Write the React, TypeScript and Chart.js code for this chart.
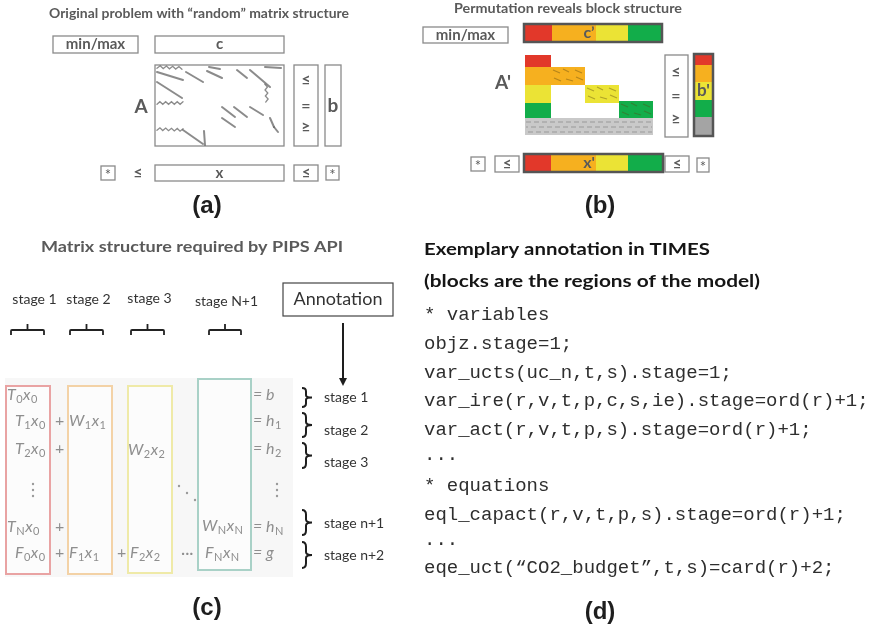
import React, { useEffect, useRef } from 'react';
import { Chart, registerables } from 'chart.js';

Chart.register(...registerables);

const W = 887;
const H = 627;

// ---------------- colours ----------------
const COLORS: Record<string, string> = {
  red: '#e2382a',
  orange: '#f6b01f',
  yellow: '#ebe335',
  green: '#12ad4a',
  gray: '#a4a4a4',
  light: '#c9c9c9',
};

// ---------------- titles & labels ----------------
const TITLES = [
  { t: 'Original problem with \u201crandom\u201d matrix structure', x: 199, y: 14, w: 300, size: 13, color: '#5a5a5a', align: 'center' },
  { t: 'Permutation reveals block structure', x: 568, y: 9, w: 228, size: 13, color: '#5a5a5a', align: 'center' },
  { t: 'Matrix structure required by PIPS API', x: 192, y: 247, w: 302, size: 15, color: '#5a5a5a', align: 'center' },
  { t: 'Exemplary annotation in TIMES', x: 424, y: 250, w: 286, size: 17, color: '#151515', align: 'left' },
  { t: '(blocks are the regions of the model)', x: 424, y: 282, w: 336, size: 17, color: '#151515', align: 'left' },
];

const PANEL_LABELS = [
  { t: '(a)', x: 207, y: 206 },
  { t: '(b)', x: 600, y: 206 },
  { t: '(c)', x: 207, y: 608 },
  { t: '(d)', x: 600, y: 612 },
];

// ---------------- panel (a) & (b) boxes ----------------
const BOXES = [
  { x: 53, y: 36, w: 85, h: 17, label: 'min/max', size: 15 },
  { x: 155, y: 36, w: 129, h: 17, label: 'c', size: 15 },
  { x: 155, y: 65, w: 129, h: 81, label: '', size: 15 },
  { x: 294, y: 65, w: 24, h: 81, label: '', size: 15 },
  { x: 325, y: 65, w: 16, h: 81, label: 'b', size: 19 },
  { x: 101, y: 166, w: 14, h: 14, label: '*', size: 15 },
  { x: 155, y: 165, w: 129, h: 16, label: 'x', size: 15 },
  { x: 294, y: 165, w: 24, h: 16, label: '\u2264', size: 15 },
  { x: 326, y: 166, w: 13, h: 14, label: '*', size: 15 },
  { x: 423, y: 27, w: 85, h: 16, label: 'min/max', size: 15 },
  { x: 665, y: 55, w: 23, h: 82, label: '', size: 15 },
  { x: 471, y: 157, w: 14, h: 14, label: '*', size: 15 },
  { x: 495, y: 156, w: 24, h: 16, label: '\u2264', size: 15 },
  { x: 665, y: 156, w: 24, h: 16, label: '\u2264', size: 15 },
  { x: 697, y: 158, w: 12, h: 14, label: '*', size: 15 },
];

const FREE_LABELS = [
  { t: 'A', x: 141, y: 107, size: 19 },
  { t: '\u2264', x: 138, y: 173, size: 16 },
  { t: '\u2264', x: 306, y: 80, size: 16 },
  { t: '=', x: 306, y: 106, size: 16 },
  { t: '\u2265', x: 306, y: 127, size: 16 },
  { t: "A'", x: 503, y: 83, size: 19 },
  { t: '\u2264', x: 676, y: 72, size: 16 },
  { t: '=', x: 676, y: 96, size: 16 },
  { t: '\u2265', x: 676, y: 119, size: 16 },
];

// streaks of the "random" matrix A: x1, y1, x2, y2, wavy(1)
const A_STREAKS = [
  [157, 67, 182, 68, 1],
  [157, 72, 183, 80, 0],
  [186, 72, 203, 82, 0],
  [209, 67, 220, 69, 0],
  [207, 71, 222, 78, 0],
  [237, 70, 247, 78, 0],
  [250, 70, 270, 87, 0],
  [265, 67, 281, 68, 0],
  [266, 84, 267, 102, 1],
  [157, 82, 182, 98, 0],
  [157, 103, 183, 103, 1],
  [222, 107, 235, 117, 0],
  [234, 107, 247, 117, 0],
  [250, 107, 263, 115, 0],
  [222, 118, 235, 127, 0],
  [270, 118, 274, 127, 0],
  [274, 127, 278, 132, 0],
  [157, 129, 183, 130, 1],
  [183, 130, 203, 144, 0],
  [204, 131, 205, 145, 0],
];

// colour bars of panel (b)
const C_BAR = { edges: [524, 552, 596, 628, 662], y0: 24, y1: 42, label: 'c\u2019', lx: 589 };
const X_BAR = { edges: [524, 551, 596, 628, 663], y0: 154, y1: 172, label: "x'", lx: 589 };
const BAR_COLORS = ['red', 'orange', 'yellow', 'green'];
const B_BAR = { x0: 694, x1: 713, edges: [54, 65, 82, 100, 117, 136], label: "b'", ly: 91 };
const B_BAR_COLORS = ['red', 'orange', 'yellow', 'green', 'gray'];

// blocks of the permuted matrix A'
const APRIME_BLOCKS = [
  { x0: 525, x1: 551, y0: 55, y1: 67, c: 'red' },
  { x0: 525, x1: 585, y0: 67, y1: 85, c: 'orange' },
  { x0: 525, x1: 551, y0: 85, y1: 103, c: 'yellow' },
  { x0: 585, x1: 619, y0: 85, y1: 103, c: 'yellow' },
  { x0: 525, x1: 551, y0: 103, y1: 118, c: 'green' },
  { x0: 619, x1: 653, y0: 101, y1: 118, c: 'green' },
  { x0: 525, x1: 653, y0: 118, y1: 135, c: 'light' },
];
const HATCH_ORIGINS = [[551, 67], [585, 85], [619, 101]];
const HATCH = [[2, 3, 9, 6], [12, 2, 18, 5], [24, 3, 31, 6], [3, 11, 10, 14], [15, 12, 22, 14], [25, 10, 32, 13]];

// ---------------- panel (c) ----------------
const STAGE_TOP = [
  { t: 'stage 1', x: 34.5, y: 299, x1: 11, x2: 44 },
  { t: 'stage 2', x: 88.5, y: 299, x1: 70, x2: 103 },
  { t: 'stage 3', x: 149.5, y: 298, x1: 131, x2: 164 },
  { t: 'stage N+1', x: 226.5, y: 301, x1: 209, x2: 241 },
];
const COLUMN_BOXES = [
  { x: 6, y: 386, w: 44, h: 188, c: '#e9a3a3' },
  { x: 68, y: 386, w: 44, h: 188, c: '#f3d2a6' },
  { x: 128, y: 386, w: 44, h: 187, c: '#efeaa8' },
  { x: 198, y: 379, w: 53, h: 191, c: '#a9d1c7' },
];
const MATH = [
  { s: 'T_0x_0', x: 7, y: 395 },
  { s: 'T_1x_0', x: 15, y: 421 }, { s: '+', x: 55, y: 421 }, { s: 'W_1x_1', x: 69, y: 421 },
  { s: 'T_2x_0', x: 15, y: 449 }, { s: '+', x: 55, y: 449 }, { s: 'W_2x_2', x: 128, y: 450 },
  { s: 'T_Nx_0', x: 7, y: 527 }, { s: '+', x: 55, y: 527 }, { s: 'W_Nx_N', x: 202, y: 526 },
  { s: 'F_0x_0', x: 15, y: 553 }, { s: '+', x: 55, y: 553 }, { s: 'F_1x_1', x: 69, y: 553 },
  { s: '+', x: 117, y: 553 }, { s: 'F_2x_2', x: 130, y: 553 }, { s: '\u00b7\u00b7\u00b7', x: 181, y: 553 },
  { s: 'F_Nx_N', x: 205, y: 553 },
  { s: '= b', x: 253, y: 395 }, { s: '= h_1', x: 253, y: 421 }, { s: '= h_2', x: 253, y: 449 },
  { s: '= h_N', x: 253, y: 527 }, { s: '= g', x: 253, y: 553 },
];
const VDOTS = [[33, 484], [33, 490], [33, 496], [277, 484], [277, 490], [277, 496]];
const DDOTS = [[179, 486], [187, 493], [195, 500]];
const STAGE_RIGHT = [
  { t: 'stage 1', y0: 388, y1: 407, ly: 397 },
  { t: 'stage 2', y0: 413, y1: 437, ly: 430 },
  { t: 'stage 3', y0: 443, y1: 468, ly: 462 },
  { t: 'stage n+1', y0: 510, y1: 535, ly: 523 },
  { t: 'stage n+2', y0: 542, y1: 568, ly: 555 },
];

// ---------------- panel (d) ----------------
const CODE_LINES = [
  { t: '* variables', y: 315 },
  { t: 'objz.stage=1;', y: 344 },
  { t: 'var_ucts(uc_n,t,s).stage=1;', y: 373 },
  { t: 'var_ire(r,v,t,p,c,s,ie).stage=ord(r)+1;', y: 401 },
  { t: 'var_act(r,v,t,p,s).stage=ord(r)+1;', y: 430 },
  { t: '...', y: 455 },
  { t: '* equations', y: 486 },
  { t: 'eql_capact(r,v,t,p,s).stage=ord(r)+1;', y: 515 },
  { t: '...', y: 540 },
  { t: 'eqe_uct(\u201cCO2_budget\u201d,t,s)=card(r)+2;', y: 568 },
];

const SANS = 'Lato, "Open Sans", sans-serif';

function drawText(ctx: CanvasRenderingContext2D, s: string, x: number, y: number, font: string, color: string, align: string, fitW?: number) {
  ctx.save();
  ctx.font = font;
  ctx.fillStyle = color;
  ctx.textBaseline = 'middle';
  ctx.textAlign = 'left';
  const m = ctx.measureText(s).width;
  const sx = fitW ? fitW / m : 1;
  const left = align === 'center' ? x - (m * sx) / 2 : align === 'right' ? x - m * sx : x;
  ctx.translate(left, y);
  ctx.scale(sx, 1);
  ctx.fillText(s, 0, 0);
  ctx.restore();
}

function parseMath(s: string) {
  const runs: { t: string; sub: boolean }[] = [];
  let i = 0;
  while (i < s.length) {
    if (s[i] === '_') {
      runs.push({ t: s[i + 1], sub: true });
      i += 2;
    } else {
      let t = '';
      while (i < s.length && s[i] !== '_') {
        t += s[i];
        i++;
      }
      runs.push({ t, sub: false });
    }
  }
  return runs;
}

const diagramPlugin = {
  id: 'diagram',
  afterDatasetsDraw(chart: any) {
    const ctx: CanvasRenderingContext2D = chart.ctx;
    const xs = chart.scales.x;
    const ys = chart.scales.y;
    const X = (v: number) => xs.getPixelForValue(v);
    const Y = (v: number) => ys.getPixelForValue(v);
    const rect = (x0: number, y0: number, x1: number, y1: number) => [X(x0), Y(y0), X(x1) - X(x0), Y(y1) - Y(y0)] as const;

    ctx.save();
    ctx.fillStyle = '#ffffff';
    ctx.fillRect(0, 0, chart.width, chart.height);
    ctx.restore();

    // titles
    TITLES.forEach((t) => {
      const fw = X(t.x + t.w) - X(t.x);
      drawText(ctx, t.t, X(t.x), Y(t.y), `bold ${t.size}px ${SANS}`, t.color, t.align, fw);
    });
    PANEL_LABELS.forEach((p) => {
      drawText(ctx, p.t, X(p.x), Y(p.y), `bold 24px "Liberation Sans", Arial, sans-serif`, '#1e1e1e', 'center');
    });

    // A' blocks
    APRIME_BLOCKS.forEach((b) => {
      ctx.fillStyle = COLORS[b.c];
      ctx.fillRect(...rect(b.x0, b.y0, b.x1, b.y1));
    });
    ctx.save();
    ctx.filter = 'blur(0.5px)';
    ctx.strokeStyle = 'rgba(90,70,20,0.4)';
    ctx.lineWidth = 1.2;
    HATCH_ORIGINS.forEach(([ox, oy]) => {
      HATCH.forEach(([a, b, c, d]) => {
        ctx.beginPath();
        ctx.moveTo(X(ox + a), Y(oy + b));
        ctx.lineTo(X(ox + c), Y(oy + d));
        ctx.stroke();
      });
    });
    ctx.strokeStyle = 'rgba(110,110,110,0.5)';
    ctx.setLineDash([5, 3]);
    [122, 127, 132].forEach((yy, i) => {
      ctx.lineDashOffset = i * 3;
      ctx.beginPath();
      ctx.moveTo(X(526), Y(yy));
      ctx.lineTo(X(652), Y(yy));
      ctx.stroke();
    });
    ctx.restore();

    // boxes
    BOXES.forEach((b) => {
      ctx.save();
      ctx.strokeStyle = '#8a8a8a';
      ctx.lineWidth = 1.3;
      ctx.strokeRect(...rect(b.x, b.y, b.x + b.w, b.y + b.h));
      ctx.restore();
      if (b.label) {
        const isStar = b.label === '*';
        const bold = isStar ? '' : 'bold ';
        drawText(ctx, b.label, X(b.x + b.w / 2), Y(b.y + b.h / 2 + (isStar ? 2.5 : 0)), `${bold}${b.size}px ${SANS}`, '#5a5a5a', 'center');
      }
    });
    FREE_LABELS.forEach((f) => {
      drawText(ctx, f.t, X(f.x), Y(f.y), `bold ${f.size}px ${SANS}`, '#5a5a5a', 'center');
    });

    // A streaks
    ctx.save();
    ctx.filter = 'blur(0.6px)';
    ctx.strokeStyle = 'rgba(90,90,90,0.7)';
    ctx.lineCap = 'round';
    A_STREAKS.forEach(([x1, y1, x2, y2, wavy]) => {
      ctx.beginPath();
      if (!wavy) {
        ctx.lineWidth = 2;
        ctx.moveTo(X(x1), Y(y1));
        ctx.lineTo(X(x2), Y(y2));
      } else {
        ctx.lineWidth = 1.3;
        const dx = X(x2) - X(x1);
        const dy = Y(y2) - Y(y1);
        const len = Math.hypot(dx, dy);
        const n = Math.max(2, Math.round(len / 3));
        const px = -dy / len;
        const py = dx / len;
        for (let i = 0; i <= n; i++) {
          const f = i / n;
          const a = i % 2 === 0 ? 1.3 : -1.3;
          const xx = X(x1) + dx * f + px * a;
          const yy = Y(y1) + dy * f + py * a;
          if (i === 0) ctx.moveTo(xx, yy);
          else ctx.lineTo(xx, yy);
        }
      }
      ctx.stroke();
    });
    ctx.restore();

    // colour bars
    [C_BAR, X_BAR].forEach((bar) => {
      for (let i = 0; i < 4; i++) {
        ctx.fillStyle = COLORS[BAR_COLORS[i]];
        ctx.fillRect(...rect(bar.edges[i], bar.y0, bar.edges[i + 1], bar.y1));
      }
      ctx.save();
      ctx.strokeStyle = '#555555';
      ctx.lineWidth = 2.5;
      ctx.strokeRect(...rect(bar.edges[0], bar.y0, bar.edges[4], bar.y1));
      ctx.restore();
      drawText(ctx, bar.label, X(bar.lx), Y((bar.y0 + bar.y1) / 2), `bold 16px ${SANS}`, '#5a5a5a', 'center');
    });
    for (let i = 0; i < 5; i++) {
      ctx.fillStyle = COLORS[B_BAR_COLORS[i]];
      ctx.fillRect(...rect(B_BAR.x0, B_BAR.edges[i], B_BAR.x1, B_BAR.edges[i + 1]));
    }
    ctx.save();
    ctx.strokeStyle = '#555555';
    ctx.lineWidth = 2.5;
    ctx.strokeRect(...rect(B_BAR.x0, B_BAR.edges[0], B_BAR.x1, B_BAR.edges[5]));
    ctx.restore();
    drawText(ctx, B_BAR.label, X((B_BAR.x0 + B_BAR.x1) / 2), Y(B_BAR.ly), `bold 17px ${SANS}`, '#5a5a5a', 'center');

    // ---------- panel (c) ----------
    ctx.save();
    ctx.fillStyle = '#f7f7f7';
    ctx.fillRect(...rect(5, 378, 293, 577));
    ctx.restore();
    COLUMN_BOXES.forEach((b) => {
      ctx.save();
      ctx.fillStyle = '#fcfcfc';
      ctx.fillRect(...rect(b.x, b.y, b.x + b.w, b.y + b.h));
      ctx.strokeStyle = b.c;
      ctx.lineWidth = 2;
      ctx.strokeRect(...rect(b.x, b.y, b.x + b.w, b.y + b.h));
      ctx.restore();
    });
    MATH.forEach((m) => {
      const runs = parseMath(m.s);
      let cx = X(m.x);
      ctx.save();
      ctx.fillStyle = '#8e8e8e';
      ctx.textBaseline = 'middle';
      runs.forEach((r) => {
        const upright = /^[=+\u00b7 ]+$/.test(r.t);
        ctx.font = r.sub ? `11px ${SANS}` : `${upright ? '' : 'italic '}16px ${SANS}`;
        const yy = r.sub ? Y(m.y) + 4 : Y(m.y);
        ctx.fillText(r.t, cx, yy);
        cx += ctx.measureText(r.t).width + 0.5;
      });
      ctx.restore();
    });
    ctx.save();
    ctx.fillStyle = '#9a9a9a';
    [...VDOTS, ...DDOTS].forEach(([x, y]) => {
      ctx.beginPath();
      ctx.arc(X(x), Y(y), 1.2, 0, Math.PI * 2);
      ctx.fill();
    });
    ctx.restore();

    // stage labels & top braces
    ctx.save();
    ctx.strokeStyle = '#222222';
    ctx.lineWidth = 1.8;
    STAGE_TOP.forEach((s) => {
      drawText(ctx, s.t, X(s.x), Y(s.y), `14px ${SANS}`, '#333333', 'center');
      const mid = (s.x1 + s.x2) / 2;
      ctx.beginPath();
      ctx.moveTo(X(s.x1), Y(335));
      ctx.lineTo(X(s.x1), Y(331));
      ctx.quadraticCurveTo(X(s.x1), Y(330), X(s.x1 + 1), Y(330));
      ctx.lineTo(X(s.x2 - 1), Y(330));
      ctx.quadraticCurveTo(X(s.x2), Y(330), X(s.x2), Y(331));
      ctx.lineTo(X(s.x2), Y(335));
      ctx.moveTo(X(mid), Y(330));
      ctx.lineTo(X(mid), Y(324));
      ctx.stroke();
    });
    ctx.restore();

    // annotation box & arrow
    ctx.save();
    ctx.strokeStyle = '#444444';
    ctx.lineWidth = 1.2;
    ctx.strokeRect(...rect(283, 283, 393, 316));
    ctx.restore();
    drawText(ctx, 'Annotation', X(338), Y(299), `18px ${SANS}`, '#333333', 'center');
    ctx.save();
    ctx.strokeStyle = '#1e1e1e';
    ctx.fillStyle = '#1e1e1e';
    ctx.lineWidth = 2;
    ctx.beginPath();
    ctx.moveTo(X(343), Y(323));
    ctx.lineTo(X(343), Y(379));
    ctx.stroke();
    ctx.beginPath();
    ctx.moveTo(X(339), Y(378));
    ctx.lineTo(X(347), Y(378));
    ctx.lineTo(X(343), Y(386));
    ctx.closePath();
    ctx.fill();
    ctx.restore();

    // right braces
    ctx.save();
    ctx.strokeStyle = '#1e1e1e';
    ctx.lineWidth = 2;
    STAGE_RIGHT.forEach((s) => {
      const x = X(302);
      const w = X(312) - X(302);
      const y0 = Y(s.y0);
      const y1 = Y(s.y1);
      const m = (y0 + y1) / 2;
      const h = y1 - y0;
      ctx.beginPath();
      ctx.moveTo(x, y0);
      ctx.quadraticCurveTo(x + w * 0.4, y0, x + w * 0.4, y0 + h * 0.18);
      ctx.lineTo(x + w * 0.4, m - h * 0.12);
      ctx.quadraticCurveTo(x + w * 0.4, m, x + w, m);
      ctx.quadraticCurveTo(x + w * 0.4, m, x + w * 0.4, m + h * 0.12);
      ctx.lineTo(x + w * 0.4, y1 - h * 0.18);
      ctx.quadraticCurveTo(x + w * 0.4, y1, x, y1);
      ctx.stroke();
      drawText(ctx, s.t, X(324), Y(s.ly), `14px ${SANS}`, '#333333', 'left');
    });
    ctx.restore();

    // ---------- panel (d) ----------
    CODE_LINES.forEach((c) => {
      drawText(ctx, c.t, X(424), Y(c.y), `19px "Liberation Mono", "Courier New", monospace`, '#2e2e2e', 'left');
    });
  },
};

export default function App() {
  const ref = useRef<HTMLCanvasElement | null>(null);
  useEffect(() => {
    if (!ref.current) return;
    const chart = new Chart(ref.current, {
      type: 'scatter',
      data: { datasets: [{ data: [] }] },
      options: {
        animation: false,
        responsive: false,
        devicePixelRatio: 1,
        layout: { padding: 0 },
        plugins: { legend: { display: false }, tooltip: { enabled: false } },
        scales: {
          x: { type: 'linear', min: 0, max: W, display: false },
          y: { type: 'linear', min: 0, max: H, reverse: true, display: false },
        },
      },
      plugins: [diagramPlugin],
    } as any);
    return () => chart.destroy();
  }, []);
  return (
    <div style={{ position: 'absolute', left: 0, top: 0, width: W, height: H, background: '#fff' }}>
      <canvas ref={ref} width={W} height={H} style={{ display: 'block' }} />
    </div>
  );
}
